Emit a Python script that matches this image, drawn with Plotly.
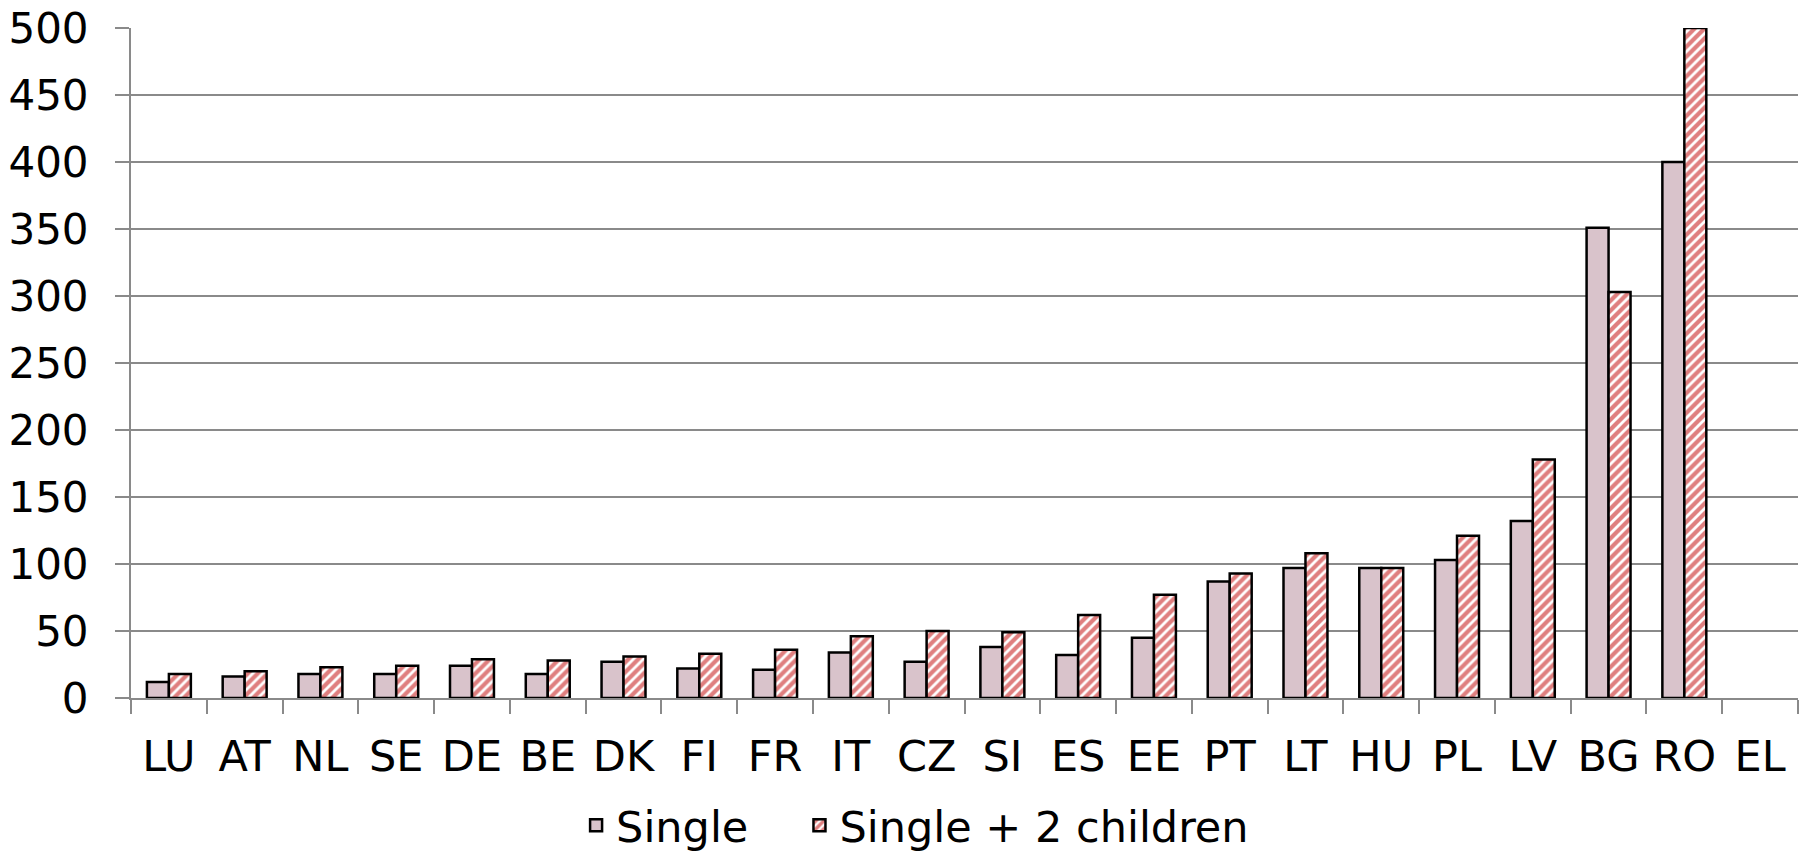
import plotly.graph_objects as go

countries = ["LU", "AT", "NL", "SE", "DE", "BE", "DK", "FI", "FR", "IT", "CZ",
             "SI", "ES", "EE", "PT", "LT", "HU", "PL", "LV", "BG", "RO", "EL"]
single = [12, 16, 18, 18, 24, 18, 27, 22, 21, 34, 27,
          38, 32, 45, 87, 97, 97, 103, 132, 351, 400, None]
single_2children = [18, 20, 23, 24, 29, 28, 31, 33, 36, 46, 50,
                    49, 62, 77, 93, 108, 97, 121, 178, 303, 500, None]
y_ticks = [0, 50, 100, 150, 200, 250, 300, 350, 400, 450, 500]

FONT = "DejaVu Sans"
GRID = "#8a8a8a"

fig = go.Figure()
fig.add_trace(go.Bar(
    x=countries, y=single, name="Single", legend="legend",
    marker=dict(color="#D9C3CB", line=dict(color="black", width=2.5)),
))
fig.add_trace(go.Bar(
    x=countries, y=single_2children, name="Single + 2 children", legend="legend2",
    marker=dict(
        color="white",
        line=dict(color="black", width=2.5),
        pattern=dict(shape="/", fgcolor="#C00000", bgcolor="white",
                     size=7, solidity=0.6, fillmode="overlay"),
    ),
))

legend_common = dict(orientation="h", y=-0.19, yanchor="middle", xanchor="left",
                     font=dict(family=FONT, size=43), bgcolor="rgba(0,0,0,0)")
fig.update_layout(
    width=1808, height=853,
    margin=dict(l=131, r=10, t=28, b=155, autoexpand=False),
    paper_bgcolor="white", plot_bgcolor="white",
    font=dict(family=FONT, size=43, color="black"),
    barmode="group", bargap=0.42, bargroupgap=0,
    showlegend=True,
    legend=dict(x=0.267, **legend_common),
    legend2=dict(x=0.401, **legend_common),
)
fig.update_xaxes(
    type="category", automargin=False, showgrid=False, showline=True,
    linecolor=GRID, linewidth=2,
    ticks="outside", tickson="boundaries", ticklen=14, tickwidth=2, tickcolor=GRID,
    ticklabelstandoff=19, tickfont=dict(family=FONT, size=43),
)
fig.update_yaxes(
    range=[0, 500], tickvals=y_ticks, automargin=False, showgrid=True,
    gridcolor=GRID, gridwidth=2, ticklabeloverflow="allow",
    showline=True, linecolor=GRID, linewidth=2, zeroline=False,
    ticks="outside", ticklen=14, tickwidth=2, tickcolor=GRID,
    ticklabelstandoff=18, tickfont=dict(family=FONT, size=42),
)

fig.write_html("out.html", config={"displayModeBar": False},
               post_script="document.body.style.margin='0px';document.body.style.overflow='hidden';")
